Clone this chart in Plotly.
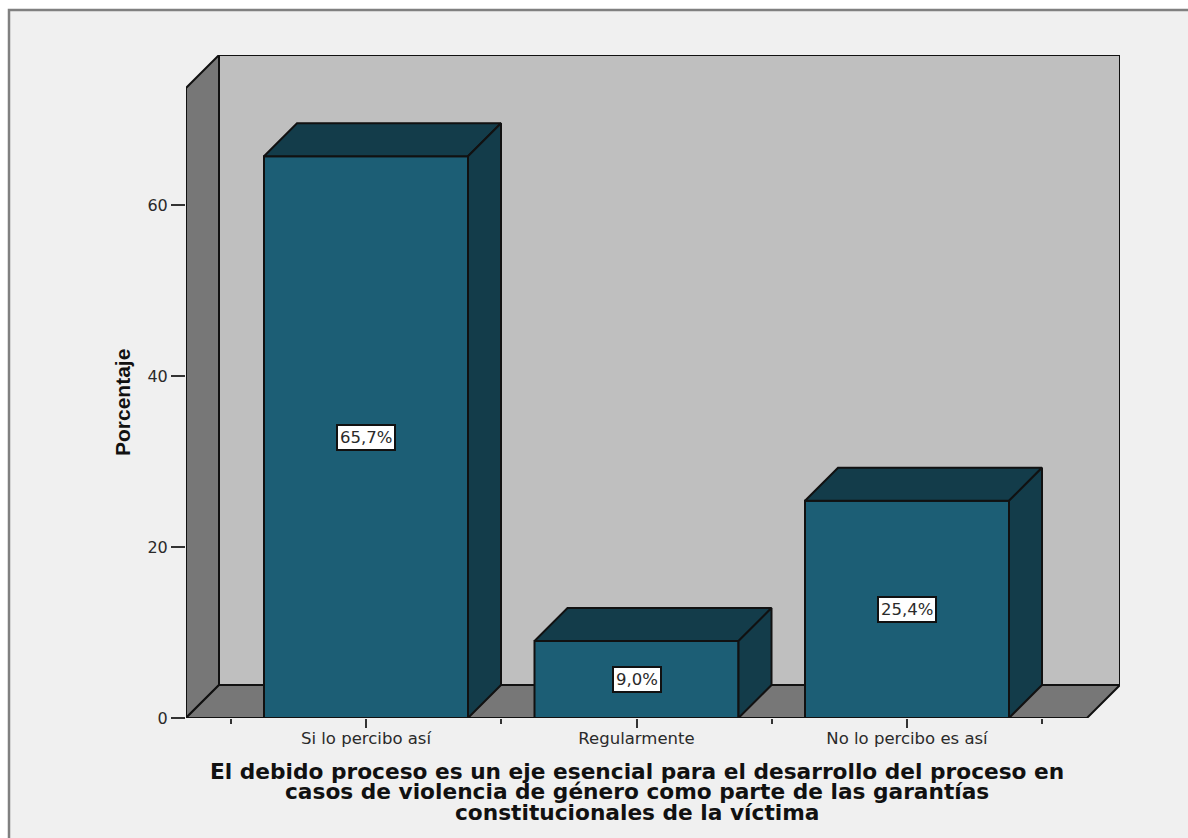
import plotly.graph_objects as go

categories = ["Si lo percibo así", "Regularmente", "No lo percibo es así"]
values = [65.7, 9.0, 25.4]
value_labels = ["65,7%", "9,0%", "25,4%"]
y_ticks = [0, 20, 40, 60]
minor_x_ticks = [-0.5, 0.5, 1.5, 2.5]
y_axis_title = "Porcentaje"
x_title_lines = [
    "El debido proceso es un eje esencial para el desarrollo del proceso en",
    "casos de violencia de género como parte de las garantías",
    "constitucionales de la víctima",
]

W, H = 1188, 838
PX_X = 270.5
PX_Y = 8.55
L, R, T, B = 186, 1120, 55, 718
x_lo = (L - 366) / PX_X
x_hi = (R - 366) / PX_X
y_top = (B - T) / PX_Y
dx = 33 / PX_X
dy = 33 / PX_Y
hw = 102 / PX_X

BG = "#f0f0f0"
WALL = "#bfbfbf"
SIDE = "#777777"
BAR = "#1c5e75"
BAR_DARK = "#133c4a"
EDGE = "#111111"
TXT = "#2a2a2a"


def px_x(p):
    return (p - L) / (R - L)


def px_y(p):
    return (B - p) / (B - T)


fig = go.Figure()


def poly(xs, ys, fill, xa="x", ya="y", width=2):
    fig.add_trace(go.Scatter(
        x=xs, y=ys, mode="lines", fill="toself", fillcolor=fill,
        line=dict(color=EDGE, width=width), hoverinfo="skip",
        showlegend=False, cliponaxis=False, xaxis=xa, yaxis=ya,
    ))


# walls and floor
x_front_r = x_hi - dx
x_back_l = x_lo + dx
poly([x_back_l, x_hi, x_hi, x_back_l, x_back_l], [dy, dy, y_top, y_top, dy], WALL)
poly([x_lo, x_back_l, x_back_l, x_lo, x_lo], [0, dy, y_top, y_top - dy, 0], SIDE)
poly([x_lo, x_front_r, x_hi, x_back_l, x_lo], [0, 0, dy, dy, 0], SIDE)

# bars
fig.add_trace(go.Bar(
    x=list(range(len(values))), y=values, width=2 * hw,
    marker=dict(color=BAR, line=dict(color=EDGE, width=2)),
    showlegend=False, cliponaxis=False, hoverinfo="skip",
    xaxis="x2", yaxis="y2",
))
for i, v in enumerate(values):
    poly([i - hw, i + hw, i + hw + dx, i - hw + dx, i - hw], [v, v, v + dy, v + dy, v], BAR_DARK, "x2", "y2")
    poly([i + hw, i + hw + dx, i + hw + dx, i + hw, i + hw], [0, dy, v + dy, v, 0], BAR_DARK, "x2", "y2")
    fig.add_annotation(
        x=i, y=v / 2, xref="x2", yref="y2", text=value_labels[i], showarrow=False,
        font=dict(family="DejaVu Sans", size=16.5, color=TXT),
        bgcolor="white", bordercolor=EDGE, borderwidth=2, borderpad=2,
    )

fig.add_annotation(
    x=px_x(122), y=px_y(403), xref="paper", yref="paper", xanchor="center", yanchor="middle",
    text=f"<b>{y_axis_title}</b>", textangle=-90,
    showarrow=False, font=dict(family="Liberation Sans", size=21, color="#111111"),
)

for line, py in zip(x_title_lines, [771, 791, 812]):
    fig.add_annotation(
        x=1, xref="x", y=px_y(py), yref="paper", yanchor="middle",
        text=f"<b>{line}</b>", showarrow=False,
        font=dict(family="DejaVu Sans", size=21.7, color="#111111"),
    )

fig.update_layout(
    width=W, height=H,
    margin=dict(l=L, r=W - R, t=T, b=H - B, pad=0),
    paper_bgcolor="white", plot_bgcolor="rgba(0,0,0,0)",
    barmode="overlay", showlegend=False,
    xaxis=dict(
        range=[x_lo, x_hi], tickvals=list(range(len(categories))), ticktext=categories,
        ticks="outside", ticklen=9, tickwidth=2, tickcolor="#333333",
        minor=dict(tickvals=minor_x_ticks, ticks="outside", ticklen=5, tickwidth=1.5, tickcolor="#333333"),
        tickfont=dict(family="DejaVu Sans", size=16.5, color=TXT),
        ticklabelstandoff=-4,
        showgrid=False, zeroline=False, showline=False,
    ),
    yaxis=dict(
        range=[0, y_top], tickvals=y_ticks, ticks="outside", ticklen=14, tickwidth=2,
        tickcolor="#333333", tickfont=dict(family="DejaVu Sans", size=16, color=TXT),
        showgrid=False, zeroline=False, showline=False,
    ),
    xaxis2=dict(range=[x_lo, x_hi], overlaying="x", visible=False, anchor="y2"),
    yaxis2=dict(range=[0, y_top], overlaying="y", visible=False, anchor="x2"),
    shapes=[dict(
        type="rect", xref="paper", yref="paper", layer="below",
        x0=px_x(9), x1=px_x(1260), y0=px_y(900), y1=px_y(10),
        fillcolor=BG, line=dict(color="#808080", width=2.5),
    )],
)

fig.write_html("out.html", config=dict(displayModeBar=False), post_script="document.body.style.margin='0';")
